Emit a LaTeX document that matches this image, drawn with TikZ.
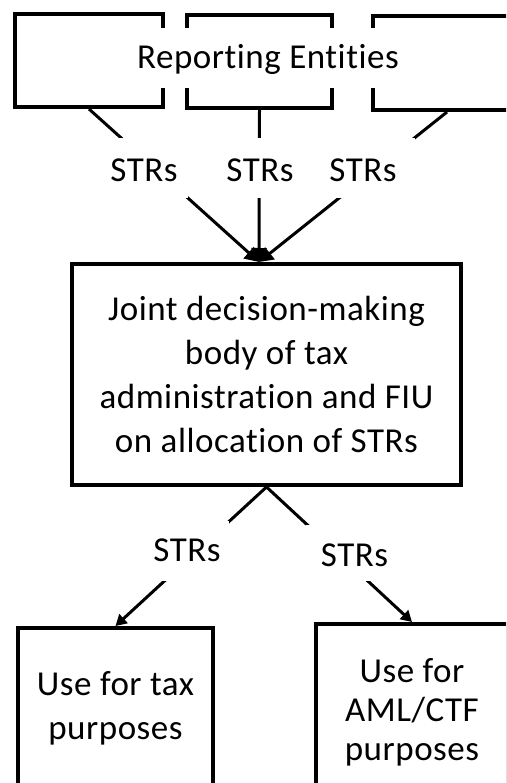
\documentclass[tikz,border=0pt]{standalone}
\usepackage{fontspec}
\setmainfont{Carlito}[LetterSpace=1.5,Ligatures={NoCommon}]
\usetikzlibrary{arrows.meta,calc}
\begin{document}
\begin{tikzpicture}[x=1pt,y=-1pt,
  every node/.style={font=\fontsize{35}{44}\selectfont},
  box/.style={draw,line width=4pt,inner sep=0pt,align=center},
  conn/.style={line width=3pt},
  tip/.style={-{Triangle[length=11pt,width=12pt]}},
  bigtip/.style={-{Triangle[length=14pt,width=15pt]}},
  lbl/.style={fill=white,inner xsep=2pt,text height=28pt,text depth=0pt,inner ysep=16pt}
]
\useasboundingbox (0,0) rectangle (506,783);
\clip (0,0) rectangle (506,783);
% reporting entities
\node[box,minimum width=148pt,minimum height=93pt] (re1) at (89,60.5) {};
\node[box,minimum width=145pt,minimum height=93pt] (re2) at (259.5,61.5) {};
\node[box,minimum width=148pt,minimum height=94pt] (re3) at (447,63) {};
\node[fill=white,inner xsep=0pt,inner ysep=10pt,text height=31pt,text depth=9pt] (rent) at (268,58) {Reporting Entities};
% joint body
\node[box,minimum width=389pt,minimum height=221pt] (jdb) at (266.5,374.5)
  {Joint decision-making\\body of tax\\administration and FIU\\on allocation of STRs};
% uses
\node[box,minimum width=195pt,minimum height=160pt] (tax) at (115.5,708) {Use for tax\\purposes};
\node[box,minimum width=192pt,minimum height=176pt,font=\fontsize{35}{39}\selectfont] (aml) at (412,712) {Use for\\AML/CTF\\purposes};
\coordinate (jin) at ($(jdb.north)+(-7.5,0)$);
% connectors
\draw[conn,bigtip] (re1.south) -- (jin);
\draw[conn,bigtip] (re2.south) -- (jin);
\draw[conn,bigtip] (re3.south) -- (jin);
\node[lbl,inner xsep=10pt] (s1) at (144,168) {STRs};
\node[lbl] (s2) at (260,168) {STRs};
\node[lbl,inner xsep=18pt] (s3) at (363,168) {STRs};
\draw[conn,tip] (jdb.south) -- (tax.north);
\draw[conn,tip] (jdb.south) -- (aml.north);
\node[fill=white,inner xsep=8pt,inner ysep=20pt,text height=20pt,text depth=0pt] (s4) at (187,551) {STRs};
\node[fill=white,inner xsep=15pt,inner ysep=15pt,text height=26pt,text depth=0pt] (s5) at (354.5,553) {STRs};
\end{tikzpicture}
\end{document}
